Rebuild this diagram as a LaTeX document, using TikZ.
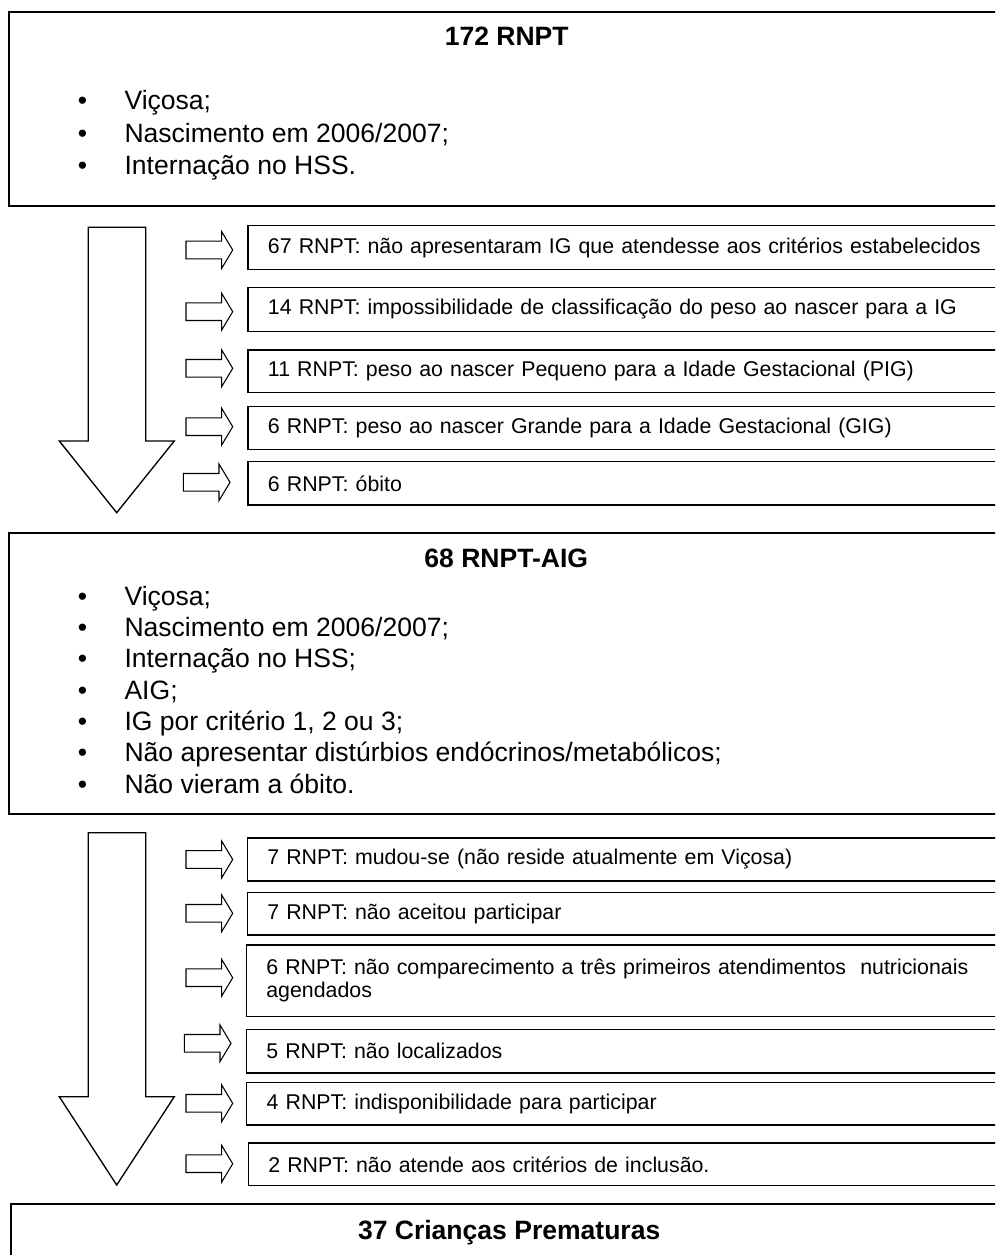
\documentclass[tikz,border=0pt]{standalone}
\usepackage{fontspec}
\setmainfont{Liberation Sans}
\newcommand\fmain{\fontsize{19.9}{24}\selectfont}
\newcommand\ftitle{\fontsize{19.9}{24}\selectfont\bfseries}
\newcommand\fsub{\fontsize{16}{17.5}\selectfont}
\newcommand\itm{\makebox[35.1pt][l]{•}}
\tikzset{
  mainbox/.style={draw, line width=1.4pt, rectangle, anchor=north west, inner sep=0pt},
  subbox/.style={draw, line width=1pt, rectangle, anchor=north west, inner xsep=15pt,
    inner ysep=0pt, text width=540pt, align=left, font=\fsub},
  bullitem/.style={anchor=base west, inner sep=0pt, font=\fmain},
  titletext/.style={anchor=base, inner sep=0pt, font=\ftitle},
  bigarrow/.style={draw, line width=1pt, line join=miter},
  sarrow/.pic={\draw[line width=0.8pt] (0,-8.8) -- (35.7,-8.8) -- (35.7,-18.3) -- (46.7,0)
     -- (35.7,18.3) -- (35.7,8.8) -- (0,8.8) -- cycle;}
}
\begin{document}
\begin{tikzpicture}[x=0.75pt, y=-0.75pt]
\useasboundingbox (0,0) rectangle (995,1255);
\clip (0,0) rectangle (995,1255);

% ---------- first main box ----------
\node[mainbox, minimum width=751.5pt, minimum height=145.7pt] (box1) at (8,10.7) {};
\node[titletext] (t1) at (506.7,46) {172 RNPT};
\node[bullitem] (b1a) at (77.5,110) {\itm Viçosa;};
\node[bullitem] (b1b) at (77.5,142.2) {\itm Nascimento em 2006/2007;};
\node[bullitem] (b1c) at (77.5,174.4) {\itm Internação no HSS.};

% ---------- first exclusion stage ----------
\draw[bigarrow] (88.3,227.3) -- (145.7,227.3) -- (145.7,441) -- (174.3,441)
   -- (116.7,512.7) -- (59.3,441) -- (88.3,441) -- cycle;

\pic at (186,250) {sarrow};
\pic at (186,311.7) {sarrow};
\pic at (186,368.3) {sarrow};
\pic at (186,426.7) {sarrow};
\pic at (183.3,482.3) {sarrow};

\node[subbox, minimum height=33pt] (e1) at (247.3,225) {67 RNPT: não apresentaram IG que atendesse aos critérios estabelecidos};
\node[subbox, minimum height=33pt] (e2) at (247.3,286.7) {14 RNPT: impossibilidade de classificação do peso ao nascer para a IG};
\node[subbox, minimum height=31.8pt] (e3) at (247.3,349.3) {11 RNPT: peso ao nascer Pequeno para a Idade Gestacional (PIG)};
\node[subbox, minimum height=32pt] (e4) at (247.3,406) {6 RNPT: peso ao nascer Grande para a Idade Gestacional (GIG)};
\node[subbox, minimum height=32.5pt] (e5) at (247.3,461) {6 RNPT: óbito};

% ---------- second main box ----------
\node[mainbox, minimum width=751.5pt, minimum height=211.2pt] (box2) at (8.3,531.7) {};
\node[titletext] (t2) at (506.3,567.3) {68 RNPT-AIG};
\node[bullitem] (b2a) at (77.5,605) {\itm Viçosa;};
\node[bullitem] (b2b) at (77.5,636.4) {\itm Nascimento em 2006/2007;};
\node[bullitem] (b2c) at (77.5,667.8) {\itm Internação no HSS;};
\node[bullitem] (b2d) at (77.5,699.1) {\itm AIG;};
\node[bullitem] (b2e) at (77.5,730.5) {\itm IG por critério 1, 2 ou 3;};
\node[bullitem] (b2f) at (77.5,761.9) {\itm Não apresentar distúrbios endócrinos/metabólicos;};
\node[bullitem] (b2g) at (77.5,793.3) {\itm Não vieram a óbito.};

% ---------- second exclusion stage ----------
\draw[bigarrow] (88.3,832.7) -- (145.7,832.7) -- (145.7,1096.7) -- (174.3,1096.7)
   -- (116.7,1185) -- (59.3,1096.7) -- (88.3,1096.7) -- cycle;

\pic at (186,859.5) {sarrow};
\pic at (186,913.3) {sarrow};
\pic at (186,977.7) {sarrow};
\pic at (184.3,1043.3) {sarrow};
\pic at (186,1103.3) {sarrow};
\pic at (186,1163.7) {sarrow};

\node[subbox, minimum height=32.25pt] (f1) at (246.7,837.3) {7 RNPT: mudou-se (não reside atualmente em Viçosa)};
\node[subbox, minimum height=32pt] (f2) at (246.7,891.7) {7 RNPT: não aceitou participar};
\node[subbox, minimum height=53.5pt] (f3) at (245.7,944.3) {6 RNPT: não comparecimento a três primeiros atendimentos\ \ nutricionais\\agendados};
\node[subbox, minimum height=32.7pt] (f4) at (245.7,1028.7) {5 RNPT: não localizados};
\node[subbox, minimum height=32pt] (f5) at (246,1081.7) {4 RNPT: indisponibilidade para participar};
\node[subbox, minimum height=32pt] (f6) at (247.7,1142.3) {2 RNPT: não atende aos critérios de inclusão.};

% ---------- final box ----------
\node[mainbox, minimum width=751.5pt, minimum height=60pt] (box3) at (10,1203.3) {};
\node[titletext] (t3) at (509.2,1239.3) {37 Crianças Prematuras};
\end{tikzpicture}
\end{document}
